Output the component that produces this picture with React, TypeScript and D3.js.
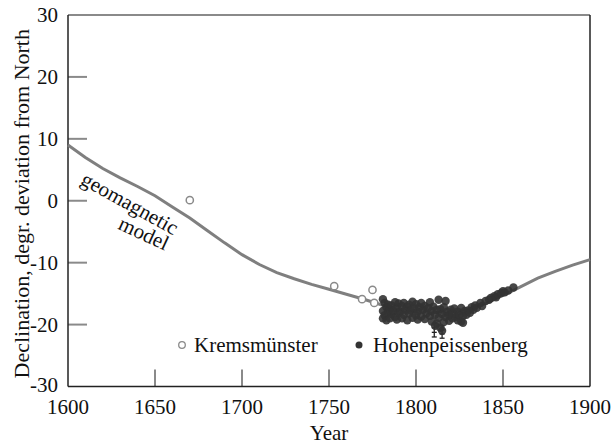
import React from "react";
import * as d3 from "d3";

const modelYears = [1600,1610,1620,1630,1640,1650,1660,1670,1680,1690,1700,1710,1720,1730,1740,1750,1760,1770,1780,1790,1800,1810,1820,1830,1840,1850,1860,1870,1880,1890,1900];
const modelValues = [9.0,7.0,5.2,3.7,2.3,0.8,-1.0,-2.8,-4.8,-6.8,-8.7,-10.3,-11.6,-12.6,-13.5,-14.3,-15.1,-15.9,-16.8,-17.5,-17.9,-18.0,-18.1,-17.6,-16.6,-15.3,-13.9,-12.5,-11.4,-10.4,-9.5];

const kremsYears = [1670,1753,1769,1775,1776];
const kremsValues = [0.1,-13.8,-15.9,-14.4,-16.5];

const hohenYears = [
  1781,1781,1781,1782,1782,1783,1783,1784,1784,1785,1785,1786,1786,1787,1788,1788,1789,1789,1790,1790,
  1791,1792,1792,1793,1793,1794,1795,1795,1796,1796,1797,1798,1798,1799,1800,1800,1801,1801,1802,1803,
  1803,1804,1805,1805,1806,1807,1808,1808,1809,1809,1810,1811,1811,1812,1812,1813,1813,1814,1814,1815,
  1815,1816,1816,1817,1817,1818,1819,1819,1820,1821,1821,1822,1823,1824,1824,1825,1826,1826,1827,1827,
  1828,1829,1830,1831,1832,1833,1834,1835,1837,1838,1840,1842,1843,1845,1846,1847,1849,1850,1851,1853,1856
];
const hohenValues = [
  -15.9,-17.8,-19.0,-16.5,-18.5,-17.2,-19.3,-16.8,-18.0,-17.5,-19.0,-16.9,-18.3,-17.8,-16.4,-18.8,-17.3,-19.2,-16.6,-18.1,
  -17.9,-17.0,-19.0,-16.5,-18.4,-17.6,-17.1,-19.3,-16.8,-18.2,-17.7,-16.3,-18.9,-17.4,-16.7,-18.5,-17.9,-19.2,-17.2,-16.5,
  -18.7,-17.6,-17.0,-19.1,-18.2,-17.3,-16.4,-18.6,-17.8,-19.5,-17.1,-18.4,-20.2,-17.6,-19.8,-16.0,-18.9,-17.5,-20.5,-18.3,
  -21.0,-17.2,-19.6,-16.2,-18.8,-17.9,-18.5,-19.4,-17.6,-18.2,-19.0,-17.4,-18.8,-17.9,-19.3,-18.5,-17.3,-19.5,-18.6,-19.7,
  -17.8,-18.4,-17.7,-18.1,-17.2,-17.6,-16.9,-17.3,-16.5,-17.0,-16.2,-16.0,-15.7,-15.4,-15.6,-15.1,-14.9,-14.6,-14.8,-14.5,-14.0
];

const errYears = [1810.5, 1815];
const errLow = [-22.0, -22.2];
const errHigh = [-19.8, -20.2];

const xTicks = [1600,1650,1700,1750,1800,1850,1900];
const yTicks = [-30,-20,-10,0,10,20,30];

const W = 614, H = 445;
const L = 68, R = 590, T = 15, B = 386.5;
const FONT = "'Liberation Serif', 'Times New Roman', serif";

export default function App() {
  const x = d3.scaleLinear().domain([1600, 1900]).range([L, R]);
  const y = d3.scaleLinear().domain([-30, 30]).range([B, T]);
  const line = d3.line<number>().x((d, i) => x(modelYears[i])).y(d => y(d));
  const modelPath = line(modelValues) || "";

  return (
    <svg width={W} height={H} style={{ position: "absolute", left: 0, top: 0, background: "#fff" }} fontFamily={FONT}>
      <rect x={0} y={0} width={W} height={H} fill="#fff" />
      {yTicks.filter(t => t > -30 && t < 30).map(t => (
        <line key={"yt" + t} x1={L} x2={L + 19} y1={y(t)} y2={y(t)} stroke="#8a8a8a" strokeWidth={2} />
      ))}
      {xTicks.filter(t => t > 1600 && t < 1900).map(t => (
        <line key={"xt" + t} x1={x(t)} x2={x(t)} y1={B} y2={B - 17} stroke="#8a8a8a" strokeWidth={2} />
      ))}
      <line x1={L} x2={R} y1={T} y2={T} stroke="#8a8a8a" strokeWidth={2} />
      <line x1={R} x2={R} y1={T} y2={B} stroke="#222" strokeWidth={1.5} />
      <line x1={L} x2={L} y1={T} y2={B} stroke="#222" strokeWidth={1.5} />
      <line x1={L} x2={R} y1={B} y2={B} stroke="#222" strokeWidth={1.5} />

      <path d={modelPath} fill="none" stroke="#7f7f7f" strokeWidth={3} />

      {errYears.map((yr, i) => (
        <g key={"e" + i} stroke="#222" strokeWidth={1.3}>
          <line x1={x(yr)} x2={x(yr)} y1={y(errHigh[i])} y2={y(errLow[i])} />
          {[0, 0.33, 0.66, 1].map(f => {
            const v = errHigh[i] + (errLow[i] - errHigh[i]) * f;
            return <line key={f} x1={x(yr) - 2.5} x2={x(yr) + 2.5} y1={y(v)} y2={y(v)} />;
          })}
        </g>
      ))}

      {hohenValues.map((v, i) => (
        <circle key={"h" + i} cx={x(hohenYears[i])} cy={y(v)} r={4.2} fill="#333" fillOpacity={0.9} />
      ))}
      {kremsValues.map((v, i) => (
        <circle key={"k" + i} cx={x(kremsYears[i])} cy={y(v)} r={3.6} fill="#fff" stroke="#8a8a8a" strokeWidth={1.5} />
      ))}

      {yTicks.map(t => (
        <text key={"yl" + t} x={58} y={y(t) - (t === -30 ? 2 : 0)} dy="0.35em" textAnchor="end" fontSize={21} fill="#111">{t}</text>
      ))}
      {xTicks.map(t => (
        <text key={"xl" + t} x={x(t)} y={414} textAnchor="middle" fontSize={21} fill="#111">{t}</text>
      ))}
      <text x={(L + R) / 2} y={440} textAnchor="middle" fontSize={21} fill="#111">Year</text>
      <text transform={`translate(21,${(T + B) / 2 + 3}) rotate(-90)`} textAnchor="middle" dy="0.35em" fontSize={22} fill="#111">
        Declination, degr. deviation from North
      </text>

      <text transform="translate(130,203) rotate(29)" textAnchor="middle" dy="0.35em" fontSize={21} fill="#111">geomagnetic</text>
      <text transform="translate(144,233) rotate(25)" textAnchor="middle" dy="0.35em" fontSize={21} fill="#111">model</text>

      <circle cx={182} cy={345} r={3.3} fill="#fff" stroke="#8a8a8a" strokeWidth={1.3} />
      <text x={194} y={352} fontSize={21} fill="#111">Kremsmünster</text>
      <circle cx={359} cy={345} r={3.5} fill="#333" />
      <text x={373} y={352} fontSize={21} fill="#111">Hohenpeissenberg</text>
    </svg>
  );
}
